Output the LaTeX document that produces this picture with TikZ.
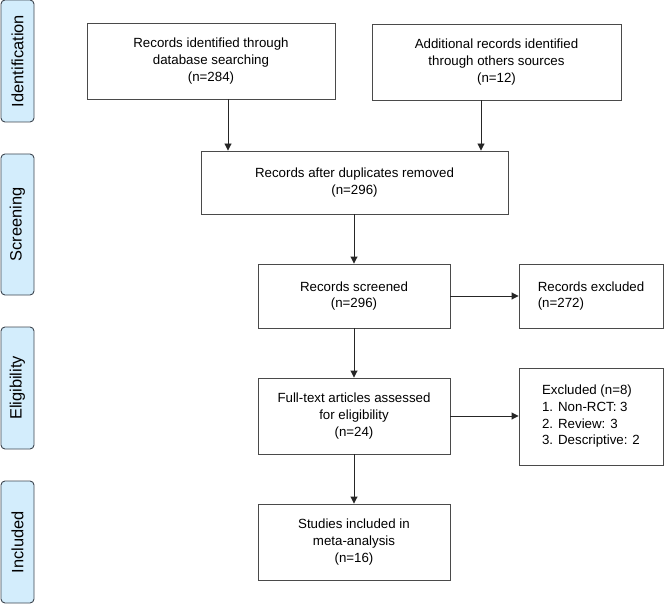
\documentclass[tikz,border=0pt]{standalone}
\usepackage{fontspec}
\setmainfont{Liberation Sans}
\usetikzlibrary{arrows.meta,calc}
\definecolor{sidefill}{HTML}{D3EDFC}
\definecolor{sideline}{HTML}{3D4650}
\definecolor{boxline}{HTML}{4A4A4A}
\tikzset{
  side/.style={draw=sideline, line width=0.9pt, fill=sidefill, rounded corners=4pt,
    minimum width=33pt, inner sep=0pt, font=\fontsize{16.4}{19}\selectfont},
  fbox/.style={draw=boxline, line width=0.9pt, inner sep=0pt, align=center,
    font=\fontsize{13.3}{16.7}\selectfont},
  lbox/.style={fbox, align=left},
  arr/.style={draw=black!85, line width=0.9pt, -{Triangle[length=7pt,width=7pt]}}
}
\begin{document}
\begin{tikzpicture}[x=1pt,y=-1pt]
\useasboundingbox (0,0) rectangle (664,604);
% side labels
\node[side, minimum height=122pt] (id) at (17.5,61) {\rotatebox{90}{Identification}};
\node[side, minimum height=141pt] (scr) at (17.5,224.5) {\rotatebox{90}{Screening}};
\node[side, minimum height=122pt] (eli) at (17.5,388) {\rotatebox{90}{Eligibility}};
\node[side, minimum height=122pt] (inc) at (17.5,542) {\rotatebox{90}{Included}};
% boxes
\node[fbox, minimum width=248pt, minimum height=76pt] (b1) at (211,61)
  {Records identified through\\database searching\\(n=284)};
\node[fbox, minimum width=249pt, minimum height=76pt] (b2) at (496.5,62)
  {Additional records identified\\through others sources\\(n=12)};
\node[fbox, minimum width=307pt, minimum height=63pt] (b3) at (354.5,182.5)
  {Records after duplicates removed\\(n=296)};
\node[fbox, minimum width=192pt, minimum height=64pt] (b4) at (354,296)
  {Records screened\\(n=296)};
\node[lbox, minimum width=144pt, minimum height=64pt] (b5) at (591,296)
  {Records excluded\\(n=272)};
\node[fbox, minimum width=192pt, minimum height=76pt] (b6) at (354,416)
  {Full-text articles assessed\\for eligibility\\(n=24)};
\node[lbox, minimum width=144pt, minimum height=97pt] (b7) at (591,416.5)
  {Excluded (n=8)\\1. Non-RCT: 3\\2. Review: 3\\3. Descriptive: 2};
\node[fbox, minimum width=192pt, minimum height=76pt] (b8) at (354,542)
  {Studies included in\\meta-analysis\\(n=16)};
% connector anchors
\coordinate (xa) at (228,0);
\coordinate (xb) at (481,0);
\draw[arr] (b1.south -| xa) -- (b3.north -| xa);
\draw[arr] (b2.south -| xb) -- (b3.north -| xb);
\draw[arr] (b3.south -| b4.north) -- (b4.north);
\draw[arr] (b4.east) -- (b5.west);
\draw[arr] (b4.south) -- (b6.north);
\draw[arr] (b6.east) -- (b7.west |- b6.east);
\draw[arr] (b6.south) -- (b8.north);
\end{tikzpicture}
\end{document}
